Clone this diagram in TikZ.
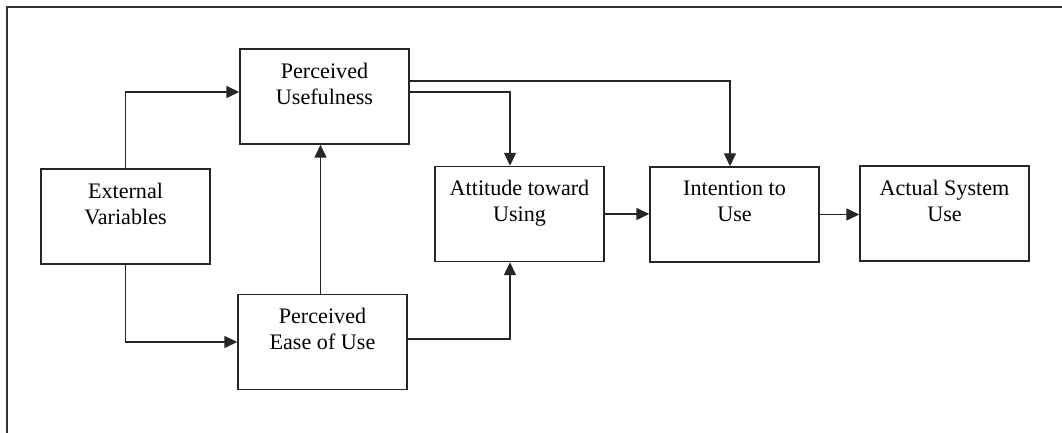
\documentclass[tikz,border=0pt]{standalone}
\usepackage{fontspec}
\setmainfont{Liberation Serif}
\usepackage{tikz}
\usetikzlibrary{arrows.meta}
\newcommand{\widthbox}{3.38cm}
\newcommand{\heightbox}{1.9cm}
\tikzset{
    box/.style={draw=black!85, line width=0.8pt, rectangle, align=center,
        minimum width=\widthbox, minimum height=\heightbox, inner sep=2pt,
        font=\fontsize{12.6}{14.7}\selectfont},
    flow/.style={-{Triangle[length=2.6mm, width=2.4mm]}, line width=0.8pt, draw=black!85},
    frame/.style={line width=1.2pt, draw=black!80}
}
\begin{document}
\begin{tikzpicture}
      \useasboundingbox (0,0) rectangle (21.24,8.66);
      \draw[frame] (21.24,8.52) -- (0.14,8.52) -- (0.14,0);

      \path
          (2.51,4.33) node[box] (ext) {External\\Variables\\\mbox{}}
          (6.49,6.73) node[box] (useful) {Perceived\\Usefulness\\\mbox{}}
          (6.45,1.82) node[box] (ease) {Perceived\\Ease of Use\\\mbox{}}
          (10.39,4.38) node[box] (attitude) {Attitude toward\\Using\\\mbox{}}
          (14.69,4.37) node[box] (intention) {Intention to\\Use\\\mbox{}}
          (18.89,4.39) node[box] (actual) {Actual System\\Use\\\mbox{}};

      \draw[flow] (ext.north) |- ([yshift=0.09cm]useful.west);
      \draw[flow] (ext.south) |- (ease.west);
      \draw[flow] ([xshift=-0.04cm]ease.north) -- ([xshift=-0.04cm]ease.north |- useful.south);
      \draw[flow] ([yshift=0.06cm]ease.east) -| ([xshift=-0.19cm]attitude.south);
      \draw[flow] ([yshift=0.09cm]useful.east) -| ([xshift=-0.19cm]attitude.north);
      \draw[flow] ([yshift=0.31cm]useful.east) -| ([xshift=-0.09cm]intention.north);
      \draw[flow] (attitude.east) -- (attitude.east -| intention.west);
      \draw[flow] (intention.east) -- (intention.east -| actual.west);
\end{tikzpicture}
\end{document}
